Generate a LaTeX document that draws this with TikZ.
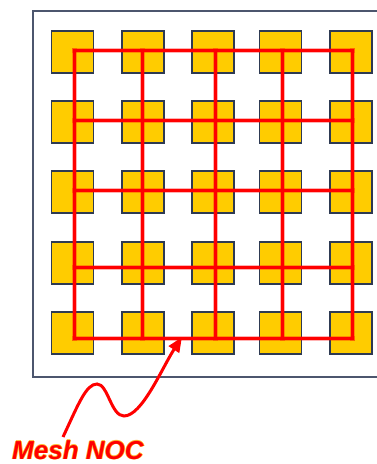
\documentclass[tikz,border=0pt]{standalone}
\usepackage{fontspec}
\setmainfont{Liberation Sans}
\usetikzlibrary{arrows.meta}
\definecolor{gold}{HTML}{FFCC00}
\definecolor{sqedge}{HTML}{2E3A52}
\definecolor{frameedge}{HTML}{4C566E}
\definecolor{glow}{HTML}{FFB830}
\begin{document}
\begin{tikzpicture}[x=1pt,y=-1pt,
  tile/.style={draw=sqedge,line width=1.3pt,fill=gold,minimum width=42pt,minimum height=42pt,inner sep=0pt},
  haloline/.style={draw=red,draw opacity=0.3,line width=5pt,line cap=rect},
  link/.style={draw=red,line width=3pt,line cap=rect},
  pointer/.style={draw=red,line width=3pt,-{Triangle[length=15pt,width=12pt]}},
  label/.style={font=\fontsize{26}{28}\selectfont\bfseries\itshape,inner sep=0pt,anchor=base west}]
\useasboundingbox (0,0) rectangle (376,464);
\draw[frameedge,line width=1.5pt] (33,11) rectangle (390,377);
% tiles
\foreach \cx [count=\i] in {72.5,143,213,280.5,351}{
  \foreach \cy [count=\j] in {52,122,192,263,333}{
    \node[tile] (s-\i-\j) at (\cx,\cy) {};
  }
}
% grid points
\foreach \gx [count=\i] in {74,142,215,282,352}{
  \foreach \gy [count=\j] in {50,120,190,267,338}{
    \coordinate (g-\i-\j) at (\gx,\gy);
  }
}
% halo
\foreach \k in {1,...,5}{
  \draw[haloline] (g-1-\k) -- (g-5-\k);
  \draw[haloline] (g-\k-1) -- (g-\k-5);
}
% mesh links
\foreach \k in {1,...,5}{
  \draw[link] (g-1-\k) -- (g-5-\k);
  \draw[link] (g-\k-1) -- (g-\k-5);
}
% pointer
\coordinate (tail) at (63,437);
\coordinate (tip) at (182,337);
\draw[pointer] (tail) .. controls (78,405) and (86,384) .. (97,384)
  .. controls (108,384) and (111,416) .. (124,416)
  .. controls (142,416) and (162,368) .. (tip);
% label with glow
\foreach \dx/\dy in {-0.7/0,0.7/0,0/-0.7,0/0.7}{
  \node[label,text=glow] at (12+\dx,459+\dy) {Mesh NOC};
}
\node[label,text=red] (lbl) at (12,459) {Mesh NOC};
\end{tikzpicture}
\end{document}
